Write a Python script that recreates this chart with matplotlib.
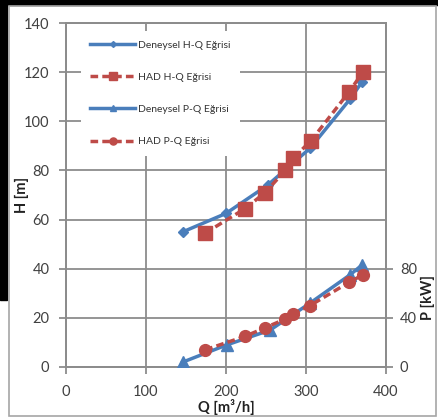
import matplotlib
matplotlib.use('Agg')
import matplotlib.pyplot as plt
from matplotlib.patches import Rectangle

plt.rcParams['font.family'] = ['Lato', 'DejaVu Sans']

# deneysel (experimental) and HAD (CFD) curves
q_den_hq = [146, 200, 252, 305, 355, 370]
h_den = [55, 62.5, 74, 89, 109, 116]

q_had_hq = [174, 224, 249, 274, 284, 306, 354, 371]
h_had = [54.5, 64.5, 71, 80, 85, 92, 112, 120]

q_den_pq = [146, 201, 255, 305, 355, 370]
p_den = [4, 18, 30, 52, 75, 83]

q_had_pq = [174, 224, 249, 274, 284, 305, 354, 371]
p_had = [14, 25, 32, 39, 43, 50, 69, 75]

x_ticks = [0, 100, 200, 300, 400]
h_ticks = [0, 20, 40, 60, 80, 100, 120, 140]
p_ticks = [0, 40, 80]

blue = '#4a7ebb'
red = '#be4b48'
grey = '#8c8c8c'
txt = '#404040'

W, H = 438, 420
fig = plt.figure(figsize=(W / 100, H / 100), dpi=100)

# screenshot border bits
fig.patches.append(Rectangle((0, 1 - 5 / H), 1, 5 / H, color='black',
                             transform=fig.transFigure, zorder=0))
fig.patches.append(Rectangle((0, 1 - 300 / H), 7 / W, 300 / H, color='black',
                             transform=fig.transFigure, zorder=0))
fig.patches.append(Rectangle((9 / W, 1 - 416 / H), (436 - 9) / W, (416 - 6) / H,
                             fill=False, edgecolor='#a6a6a6', lw=1.2,
                             transform=fig.transFigure, zorder=1))

ax = fig.add_axes([66 / W, 53 / H, 320 / W, 344 / H])
ax.set_xlim(0, 400)
ax.set_ylim(0, 140)
ax.set_xticks(x_ticks)
ax.set_yticks(h_ticks)
ax.grid(True, color=grey, lw=1.3)
ax.set_axisbelow(True)
for s in ax.spines.values():
    s.set_color(grey)
    s.set_linewidth(1.3)
ax.tick_params(direction='out', length=5, width=1.3, color=grey,
               labelcolor=txt, labelsize=10.5, pad=7)
ax.tick_params(axis='x', pad=8)

l1, = ax.plot(q_den_hq, h_den, color=blue, lw=2.5, marker='D', ms=5,
              label='Deneysel H-Q Eğrisi', zorder=3)
l2, = ax.plot(q_had_hq, h_had, color=red, lw=2.5, dashes=(2.2, 1.2),
              marker='s', ms=9.5, label='HAD H-Q Eğrisi', zorder=4)

ax2 = ax.twinx()
ax2.set_ylim(0, 280)
ax2.set_yticks(p_ticks)
for s in ax2.spines.values():
    s.set_color(grey)
    s.set_linewidth(1.3)
ax2.tick_params(direction='out', length=5, width=1.3, color=grey,
                labelcolor=txt, labelsize=10.5, pad=5)

l3, = ax2.plot(q_den_pq, p_den, color=blue, lw=2.5, marker='^', ms=8,
               label='Deneysel P-Q Eğrisi', zorder=3)
l4, = ax2.plot(q_had_pq, p_had, color=red, lw=2.5, dashes=(2.2, 1.2),
               marker='o', ms=8.5, label='HAD P-Q Eğrisi', zorder=4)

leg = ax2.legend(handles=[l1, l2, l3, l4], loc='upper left',
                 bbox_to_anchor=(81 / W, 1 - 31 / H), bbox_transform=fig.transFigure,
                 borderaxespad=0, borderpad=0.9, fontsize=7.5, handlelength=4.3,
                 handletextpad=0.25, labelspacing=2.2, markerscale=0.6,
                 frameon=True, facecolor='white', edgecolor='none', framealpha=1,
                 fancybox=False)
for t in leg.get_texts():
    t.set_color('#333333')

fig.text(22 / W, 1 - 195 / H, 'H [m]', rotation=90, ha='center', va='center',
         fontsize=10.5, fontweight='bold', color='#222222')
fig.text(226 / W, 1 - 407 / H, 'Q [m³/h]', ha='center', va='center',
         fontsize=10.5, fontweight='bold', color='#222222')
fig.text(428 / W, 1 - 298 / H, 'P [kW]', rotation=90, ha='center', va='center',
         fontsize=10.5, fontweight='bold', color='#222222')

fig.savefig('out.png', dpi=100)
